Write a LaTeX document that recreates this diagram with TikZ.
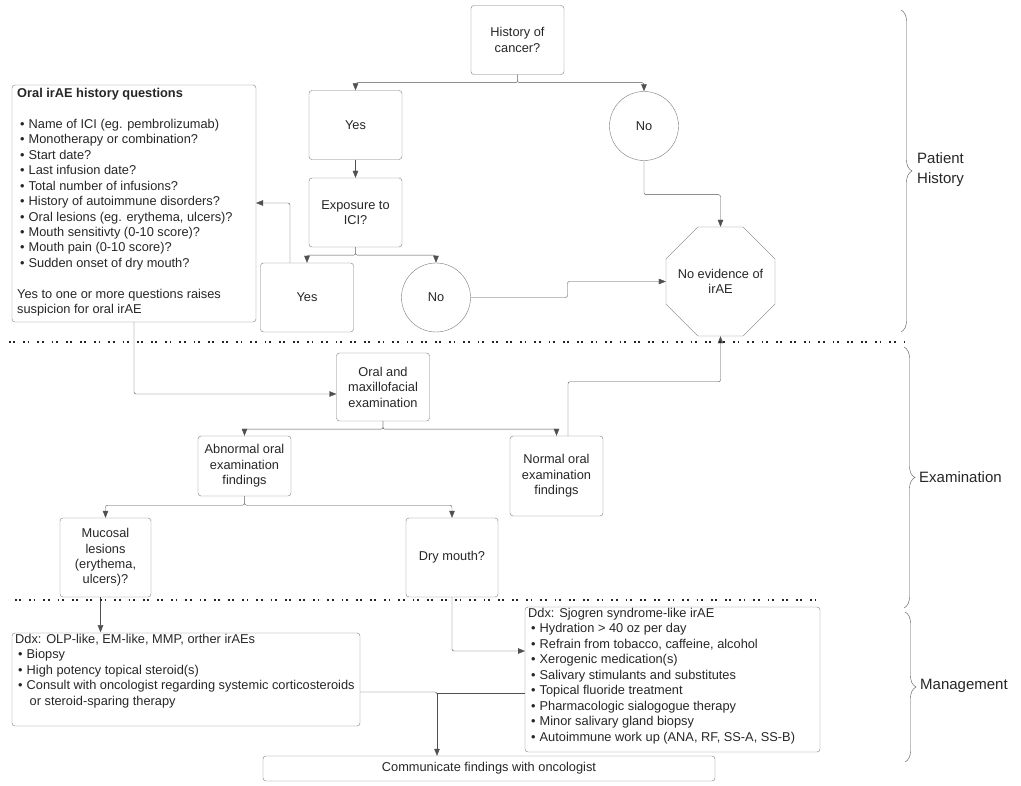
\documentclass[tikz,border=0pt]{standalone}
\usepackage{fontspec}
\setmainfont{Liberation Sans}
\usetikzlibrary{arrows.meta,shapes.geometric,decorations.pathreplacing}
\definecolor{boxgray}{HTML}{7A7A7A}
\definecolor{linegray}{HTML}{505050}
\definecolor{ink}{HTML}{262626}
\newcommand{\itm}[1]{\hspace*{3pt}\textbullet\hspace{4pt}#1}
\tikzset{
 txt/.style={text=ink,font=\fontsize{12.8}{15.45}\selectfont},
 box/.style={txt,draw=boxgray,rounded corners=3pt,align=center,inner sep=0pt,minimum width=93pt,minimum height=69pt},
 circ/.style={txt,draw=boxgray,circle,inner sep=0pt,minimum size=69pt},
 oct/.style={draw=boxgray,regular polygon,regular polygon sides=8,inner sep=0pt,minimum size=118pt},
 listbox/.style={txt,draw=boxgray,rounded corners=3pt,align=left,anchor=north west,inner sep=0pt},
 listtxt/.style={txt,align=left,anchor=north west,inner sep=0pt},
 arr/.style={draw=linegray,rounded corners=2pt,-{Triangle[length=7pt,width=5.5pt]}},
 link/.style={draw=linegray,rounded corners=2pt},
 sep/.style={line width=2pt,ink,dash pattern=on 1.8pt off 2.6pt on 1.8pt off 8pt},
 brc/.style={draw=linegray,decorate,decoration={brace,amplitude=11pt}},
 lbl/.style={text=ink,font=\fontsize{15}{20}\selectfont,align=left,anchor=west,inner sep=0pt}
}
\begin{document}
\begin{tikzpicture}[x=1pt,y=-1pt]
\useasboundingbox(0,0)rectangle(1021,786);
% patient history
\node[box](hist)at(517.5,40){History of\\cancer?};
\node[box](yes1)at(355.5,125){Yes};
\node[circ](no1)at(644,126){No};
\node[box](expo)at(355.5,212.5){Exposure to\\ICI?};
\node[box](yes2)at(307,297.5){Yes};
\node[circ](no2)at(436,297.5){No};
\node[oct,label={[txt,align=center]center:No evidence of\\irAE}](noev)at(720.5,281.5){};
\draw[listbox](12,85)rectangle(256,322);
\node[listtxt](quest)at(17,88){\textbf{Oral irAE history questions}\\[15.45pt]
\itm{Name of ICI (eg. pembrolizumab)}\\
\itm{Monotherapy or combination?}\\
\itm{Start date?}\\
\itm{Last infusion date?}\\
\itm{Total number of infusions?}\\
\itm{History of autoimmune disorders?}\\
\itm{Oral lesions (eg. erythema, ulcers)?}\\
\itm{Mouth sensitivty (0-10 score)?}\\
\itm{Mouth pain (0-10 score)?}\\
\itm{Sudden onset of dry mouth?}\\[15.45pt]
Yes to one or more questions raises\\
suspicion for oral irAE};
\coordinate(qeast)at(256,203);\coordinate(qsouth)at(134,322);
% examination
\node[box,minimum height=68pt](exam)at(383,387){Oral and\\maxillofacial\\examination};
\node[box,minimum height=60pt](abn)at(244.5,466){Abnormal oral\\examination\\findings};
\node[box,minimum height=80pt](norm)at(556.5,476){Normal oral\\examination\\findings};
\node[box,minimum width=91pt,minimum height=79pt](muc)at(105.5,557.5){Mucosal\\lesions\\(erythema,\\ulcers)?};
\node[box,minimum width=92pt,minimum height=79pt](dry)at(452,557.5){Dry mouth?};
% management
\draw[listbox](12,633)rectangle(360,726);
\node[listtxt](ddxa)at(15,634){Ddx: OLP-like, EM-like, MMP, orther irAEs\\
\itm{Biopsy}\\
\itm{High potency topical steroid(s)}\\
\itm{Consult with oncologist regarding systemic corticosteroids}\\
\hspace*{14.5pt}or steroid-sparing therapy};
\draw[listbox](525,607)rectangle(820,752);
\node[listtxt](ddxb)at(528,608){Ddx: Sjogren syndrome-like irAE\\
\itm{Hydration > 40 oz per day}\\
\itm{Refrain from tobacco, caffeine, alcohol}\\
\itm{Xerogenic medication(s)}\\
\itm{Salivary stimulants and substitutes}\\
\itm{Topical fluoride treatment}\\
\itm{Pharmacologic sialogogue therapy}\\
\itm{Minor salivary gland biopsy}\\
\itm{Autoimmune work up (ANA, RF, SS-A, SS-B)}};
\node[box,minimum width=452pt,minimum height=25pt](comm)at(489,768.5){Communicate findings with oncologist};
\coordinate(ddxaeast)at(360,692);\coordinate(ddxbwest)at(525,693);\coordinate(ddxbin)at(525,651);
\coordinate(jn)at(437,693);
% connectors
\draw[arr](hist.south)--++(0,8)-|(yes1.north);
\draw[arr](hist.south)--++(0,8)-|(no1.north);
\draw[arr](yes1)--(expo);
\draw[arr](expo.south)--++(0,8)-|(yes2.north);
\draw[arr](expo.south)--++(0,8)-|(no2.north);
\draw[arr]([xshift=-17pt]yes2.north)|-(qeast);
\draw[arr](no2.east)-|(567.5,289.5)|-(noev.west);
\draw[arr](no1.south)--++(0,34)-|(noev.north);
\draw[arr](qsouth)|-([yshift=-7pt]exam.west);
\draw[arr](exam.south)--++(0,8)-|(abn.north);
\draw[arr](exam.south)--++(0,8)-|(norm.north);
\draw[arr]([xshift=11.5pt]norm.north)--++(0,-54)-|(noev.south);
\draw[arr](abn.south)--++(0,9)-|(muc.north);
\draw[arr](abn.south)--++(0,9)-|(dry.north);
\draw[arr]([xshift=-5pt]muc.south)--++(0,35);
\draw[arr](dry.south)|-(ddxbin);
\draw[link](ddxaeast)-|(jn);
\draw[link](ddxbwest)--(jn);
\draw[arr](jn)--(jn|-comm.north);
% section separators
\draw[sep](9,342)--(906,342);
\draw[sep](15,600)--(822,600);
% braces
\draw[brc](901,10)--(901,332);
\draw[brc](904,347)--(904,608);
\draw[brc](905,612)--(905,762);
\node[lbl](lhist)at(917,170){Patient\\History};
\node[lbl](lexam)at(919,477){Examination};
\node[lbl](lmgmt)at(920,686){Management};
\end{tikzpicture}
\end{document}
